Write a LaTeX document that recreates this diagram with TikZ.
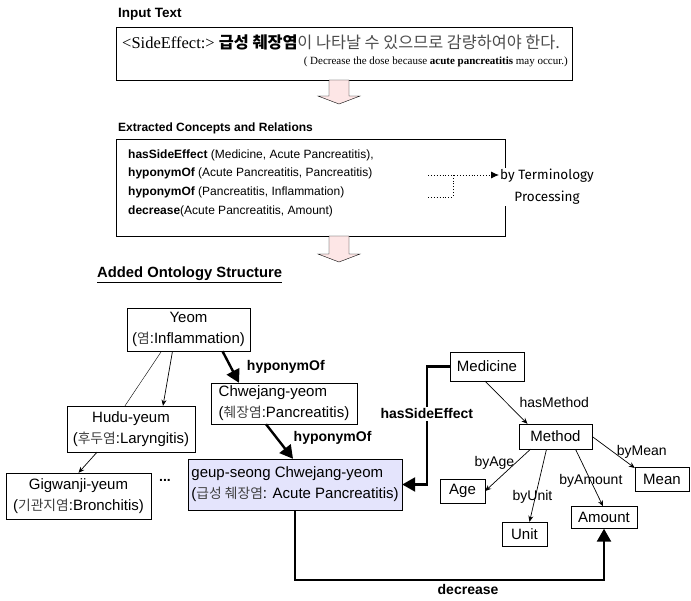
\documentclass[tikz,border=0pt]{standalone}
\usepackage{fontspec}
\setmainfont{Liberation Serif}
\setsansfont{Liberation Sans}
\newfontfamily\kr{Noto Sans CJK KR}[Scale=0.92]
\newfontfamily\hand{Fira Sans}
\usetikzlibrary{arrows.meta,calc}

\definecolor{arrowpink}{RGB}{253,230,230}
\definecolor{newconcept}{RGB}{228,228,252}

\tikzset{
  concept/.style={draw, font=\fontsize{15}{21}\selectfont\sffamily, inner sep=2pt, align=center},
  isa/.style={line width=2.4pt, -{Triangle[length=13pt,width=14pt]}},
  rel/.style={line width=0.7pt, -{Stealth[length=6pt,width=5pt]}},
  lbl/.style={font=\fontsize{14}{17}\selectfont\sffamily, inner sep=1pt},
  blbl/.style={font=\fontsize{14}{17}\selectfont\sffamily\bfseries, inner sep=1pt},
  head/.style={font=\fontsize{13.5}{17}\selectfont\sffamily\bfseries, anchor=west, inner sep=0pt},
}

\begin{document}
\begin{tikzpicture}[x=1pt,y=-1pt]
\useasboundingbox (0,0) rectangle (691,600);

% input sentence
\node[head] (inhead) at (118,14) {Input Text};
\node[draw, minimum width=456, minimum height=53, inner sep=0pt] (inbox) at (344,53.5) {};
\node[anchor=west, inner sep=0pt, font=\fontsize{16.5}{18}\selectfont] (insent) at (122,42)
  {<SideEffect:> {\fontsize{17.7}{18}\selectfont\kr{\bfseries 급성 췌장염}{\color{black!70}이 나타날 수 있으므로 감량하여야 한다.}}};
\node[anchor=east, inner sep=0pt, font=\fontsize{11}{12}\selectfont] (ingloss) at (568,62)
  {( Decrease the dose because \textbf{acute pancreatitis} may occur.)};

\coordinate (a1) at (339,80);
\draw[fill=arrowpink] (a1) ++(-10,0) -- ++(0,16) -- ++(-11,0) -- ++(21,8) -- ++(21,-8) -- ++(-11,0) -- ++(0,-16) -- cycle;

% extracted concepts and relations
\node[head, font=\fontsize{12}{15}\selectfont\sffamily\bfseries] (relhead) at (118,128) {Extracted Concepts and Relations};
\node[draw, minimum width=389, minimum height=97, inner sep=0pt] (relbox) at (310.5,187.5) {};
\node[anchor=west, align=left, inner sep=0pt, font=\fontsize{12}{18.7}\selectfont\sffamily] (rels) at (128,183)
  {\textbf{hasSideEffect} (Medicine, Acute Pancreatitis),\\
   \textbf{hyponymOf} (Acute Pancreatitis, Pancreatitis)\\
   \textbf{hyponymOf} (Pancreatitis, Inflammation)\\
   \textbf{decrease}(Acute Pancreatitis, Amount)};

\coordinate (d1) at (428,175);
\coordinate (d2) at (428,197);
\node[fill=white, align=center, inner sep=1pt, font=\fontsize{13.5}{22}\selectfont\hand] (term) at (547,187)
  {by Terminology\\Processing};
\draw[dotted, line width=0.9pt, -{Latex[length=8pt,width=7pt]}] (d1) -- (term.west |- d1);
\draw[dotted, line width=0.9pt] (d2) -| ($(d1)+(25,0)$);

\coordinate (a2) at (339,236);
\draw[fill=arrowpink] (a2) ++(-10,0) -- ++(0,18) -- ++(-11,0) -- ++(21,8) -- ++(21,-8) -- ++(-11,0) -- ++(0,-18) -- cycle;

% ontology
\node[head, font=\fontsize{14.8}{17}\selectfont\sffamily\bfseries] (onthead) at (97,275) {\underline{Added Ontology Structure}};

\node[concept, minimum width=123, minimum height=43] (yeom) at (188.5,329.5)
  {Yeom\\({\kr\color{black!75}염}:Inflammation)};
\node[concept, minimum width=146, minimum height=41, align=left] (chwe) at (284,403.5)
  {Chwejang-yeom\\({\kr\color{black!75}췌장염}:Pancreatitis)};
\node[concept, minimum width=128, minimum height=46] (hudu) at (131,429)
  {Hudu-yeum\\({\kr\color{black!75}후두염}:Laryngitis)};
\node[concept, minimum width=145, minimum height=46] (gigw) at (78.5,496)
  {Gigwanji-yeum\\({\kr\color{black!75}기관지염}:Bronchitis)};
\node[font=\fontsize{14}{17}\selectfont\sffamily\bfseries] (more) at (165,480) {...};
\node[concept, fill=newconcept, minimum width=214, minimum height=51, align=left] (geup) at (295,484.5)
  {geup-seong Chwejang-yeom\\({\kr\color{black!75}급성 췌장염}: Acute Pancreatitis)};

\node[concept, minimum width=74, minimum height=29] (medicine) at (487,366.5) {Medicine};
\node[concept, minimum width=73, minimum height=25] (method) at (555.5,436.5) {Method};
\node[concept, minimum width=45, minimum height=24] (age) at (462.5,491) {Age};
\node[concept, minimum width=45, minimum height=24] (unit) at (524.5,534) {Unit};
\node[concept, minimum width=66, minimum height=22] (amount) at (604,517.5) {Amount};
\node[concept, minimum width=54, minimum height=24] (mean) at (662,479) {Mean};

\draw ($(yeom.south)+(-27,0)$) -- ($(hudu.north)+(-6,0)$);
\draw[rel] ($(yeom.south)+(-16,0)$) -- ($(hudu.north)+(32,0)$);
\draw[rel] ($(hudu.south)+(-34,0)$) -- (gigw.north);

\draw[isa] ($(yeom.south)+(34,0)$) -- node[blbl, midway, anchor=west, xshift=14pt] {hyponymOf} ($(chwe.north)+(-45,0)$);
\draw[isa] ($(chwe.south)+(-18,0)$) -- node[blbl, midway, anchor=west, xshift=12pt, yshift=4pt] {hyponymOf} ($(geup.north)+(-2,0)$);
\draw[isa] (medicine.west) -- ++(-23,0) |- node[blbl, pos=0.2, fill=white, inner sep=2pt] {hasSideEffect} (geup.east);
\draw[isa] (geup.south) -- ++(0,70) -| node[blbl, pos=0.28, below=2pt] {decrease} (amount.south);

\draw[rel] ($(medicine.south)+(-2,0)$) -- node[lbl, midway, anchor=west, xshift=12pt] {hasMethod} ($(method.north)+(-28,0)$);
\draw[rel] ($(method.south)+(-25,0)$) -- node[lbl, pos=0.33, anchor=east] {byAge} (age.east);
\draw[rel] ($(method.south)+(-9,0)$) -- node[lbl, pos=0.65, xshift=-3pt] {byUnit} ($(unit.north)+(5,0)$);
\draw[rel] ($(method.south)+(20,0)$) -- node[lbl, pos=0.56] {byAmount} ($(amount.north)+(-1,0)$);
\draw[rel] (method.east) -- node[lbl, pos=0.5, anchor=south west, inner sep=0pt, xshift=3pt, yshift=-6pt] {byMean} ($(mean.west)+(0,-11)$);
\end{tikzpicture}
\end{document}
